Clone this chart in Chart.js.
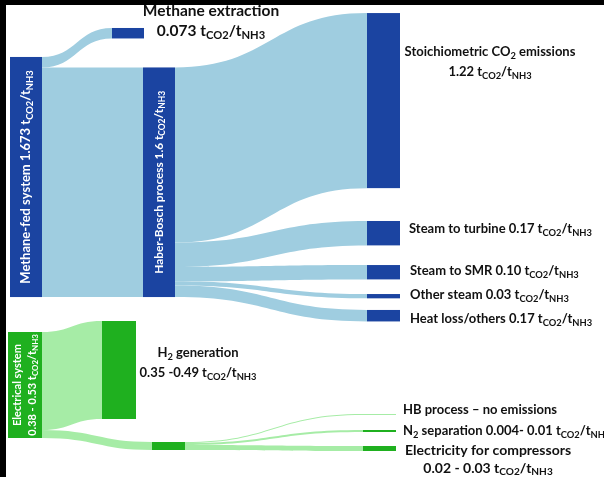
<!DOCTYPE html>
<html>
<head>
<meta charset="utf-8">
<script src="https://cdn.jsdelivr.net/npm/chart.js"></script>
<style>
  html, body { margin: 0; padding: 0; background: #fff; }
  canvas { display: block; }
</style>
</head>
<body>
<canvas id="myChart" width="604" height="477"></canvas>
<script>
// --- data (values in tCO2/tNH3) ---
var nodeNames = ['Methane-fed system', 'Methane extraction', 'Haber-Bosch process',
  'Stoichiometric CO2 emissions', 'Steam to turbine', 'Steam to SMR', 'Other steam', 'Heat loss/others',
  'Electrical system', 'H2 generation', 'Electricity split', 'HB process - no emissions',
  'N2 separation', 'Electricity for compressors'];
var nodeValues = [1.673, 0.073, 1.6, 1.22, 0.17, 0.10, 0.03, 0.08, 0.53, 0.49, 0.04, 0.005, 0.01, 0.025];
var flowFrom = [0, 0, 2, 2, 2, 2, 2, 8, 8, 10, 10, 10];
var flowTo = [1, 2, 3, 4, 5, 6, 7, 9, 10, 11, 12, 13];
var flowValues = [0.073, 1.6, 1.22, 0.17, 0.10, 0.03, 0.08, 0.49, 0.04, 0.005, 0.01, 0.025];

// label texts (_{..} = subscript)
var labelTexts = [
  ['Methane extraction', '0.073 t_{CO2}/t_{NH3}'],
  ['Stoichiometric CO_{2} emissions', '1.22 t_{CO2}/t_{NH3}'],
  ['Steam to turbine 0.17 t_{CO2}/t_{NH3}'],
  ['Steam to SMR 0.10 t_{CO2}/t_{NH3}'],
  ['Other steam 0.03 t_{CO2}/t_{NH3}'],
  ['Heat loss/others 0.17 t_{CO2}/t_{NH3}'],
  ['H_{2} generation', '0.35 -0.49 t_{CO2}/t_{NH3}'],
  ['HB process \u2013 no emissions'],
  ['N_{2} separation 0.004- 0.01 t_{CO2}/t_{NH3}'],
  ['Electricity for compressors', '0.02 - 0.03 t_{CO2}/t_{NH3}']
];
var nodeTexts = [
  ['Methane-fed system 1.673 t_{CO2}/t_{NH3}'],
  ['Haber-Bosch process 1.6 t_{CO2}/t_{NH3}'],
  ['Electrical system', '0.38 - 0.53 t_{CO2}/t_{NH3}']
];

// --- layout ---
var nodeLeft = [10, 112, 143, 367, 367, 367, 367, 367, 8, 102, 152, 363, 363, 363];
var nodeRight = [42, 144, 175, 400, 400, 400, 400, 400, 42, 136, 185, 396, 396, 396];
var nodeTop = [0.397, 0.195, 0.470, 0.091, 1.540, 1.847, 2.049, 2.160, 1.66, 1.605, 2.21, 2.07, 2.15, 2.23];
var nodeAxis = ['y', 'y', 'y', 'y', 'y', 'y', 'y', 'y', 'yg', 'yg', 'yg', 'yg', 'yg', 'yg'];
var nodeColor = ['#1b44a1', '#1b44a1', '#1b44a1', '#1b44a1', '#1b44a1', '#1b44a1', '#1b44a1', '#1b44a1',
  '#1fb01f', '#1fb01f', '#1fb01f', '#a6eca6', '#1fb01f', '#1fb01f'];
var flowColor = { y: '#9fcde0', yg: '#a6eca6' };
// label anchors: x, first-line y, align, line gap, font size
var labelPos = [
  [211, 11, 'center', 20, 15.5], [490, 52, 'center', 20, 13], [409, 229, 'left', 0, 13], [410, 271, 'left', 0, 13],
  [410, 295, 'left', 0, 13], [410, 319, 'left', 0, 13], [198, 353, 'center', 20, 13], [403, 410, 'left', 0, 13],
  [403, 431, 'left', 0, 13], [405, 450, 'left', 18, 14]
];
var nodeTextNode = [0, 2, 8];
var nodeTextSize = [13, 11.8, 11];
var FONT = 'Lato, "Open Sans", sans-serif';

function splitSub(str) {
  var out = [], re = /_\{([^}]*)\}/g, last = 0, m;
  while ((m = re.exec(str))) {
    if (m.index > last) out.push({ t: str.slice(last, m.index), sub: false });
    out.push({ t: m[1], sub: true });
    last = re.lastIndex;
  }
  if (last < str.length) out.push({ t: str.slice(last), sub: false });
  return out;
}

function richWidth(ctx, str, size) {
  var w = 0;
  splitSub(str).forEach(function(p) {
    ctx.font = 'bold ' + (p.sub ? size * 0.72 : size) + 'px ' + FONT;
    w += ctx.measureText(p.t).width;
  });
  return w;
}

function drawRich(ctx, str, x, y, size, align, color) {
  var parts = splitSub(str);
  var w = richWidth(ctx, str, size);
  var cx = align === 'center' ? x - w / 2 : x;
  ctx.fillStyle = color;
  ctx.textBaseline = 'middle';
  ctx.textAlign = 'left';
  parts.forEach(function(p) {
    ctx.font = 'bold ' + (p.sub ? size * 0.72 : size) + 'px ' + FONT;
    ctx.fillText(p.t, cx, p.sub ? y + size * 0.3 : y);
    cx += ctx.measureText(p.t).width;
  });
}

var sankeyPlugin = {
  id: 'sankey',
  beforeDraw: function(chart) {
    var ctx = chart.ctx;
    ctx.save();
    ctx.fillStyle = '#fff';
    ctx.fillRect(0, 0, chart.width, chart.height);
    ctx.fillStyle = '#000';
    ctx.fillRect(0, 0, chart.width, 5);
    ctx.fillRect(0, 0, 6, chart.height);
    ctx.restore();
  },
  afterDraw: function(chart) {
    var ctx = chart.ctx, xs = chart.scales.x;
    var outOff = nodeNames.map(function() { return 0; });
    var inOff = nodeNames.map(function() { return 0; });
    ctx.save();
    // flows
    for (var i = 0; i < flowValues.length; i++) {
      var s = flowFrom[i], t = flowTo[i], ys = chart.scales[nodeAxis[s]];
      var v = flowValues[i];
      var x0 = xs.getPixelForValue(nodeRight[s]), x1 = xs.getPixelForValue(nodeLeft[t]);
      var a0 = ys.getPixelForValue(nodeTop[s] + outOff[s]);
      var b0 = ys.getPixelForValue(nodeTop[s] + outOff[s] + v);
      var a1 = ys.getPixelForValue(nodeTop[t] + inOff[t]);
      var b1 = ys.getPixelForValue(nodeTop[t] + inOff[t] + v);
      outOff[s] += v; inOff[t] += v;
      var xm = (x0 + x1) / 2;
      ctx.beginPath();
      ctx.moveTo(x0, a0);
      ctx.bezierCurveTo(xm, a0, xm, a1, x1, a1);
      ctx.lineTo(x1, b1);
      ctx.bezierCurveTo(xm, b1, xm, b0, x0, b0);
      ctx.closePath();
      ctx.fillStyle = flowColor[nodeAxis[s]];
      ctx.fill();
    }
    // nodes
    for (var n = 0; n < nodeValues.length; n++) {
      var sc = chart.scales[nodeAxis[n]];
      var l = xs.getPixelForValue(nodeLeft[n]), r = xs.getPixelForValue(nodeRight[n]);
      var top = sc.getPixelForValue(nodeTop[n]), bot = sc.getPixelForValue(nodeTop[n] + nodeValues[n]);
      ctx.fillStyle = nodeColor[n];
      ctx.fillRect(l, top, r - l, Math.max(1, bot - top));
    }
    // vertical labels inside nodes
    nodeTexts.forEach(function(lines, k) {
      var n = nodeTextNode[k], sc = chart.scales[nodeAxis[n]];
      var cx = (xs.getPixelForValue(nodeLeft[n]) + xs.getPixelForValue(nodeRight[n])) / 2;
      var cy = (sc.getPixelForValue(nodeTop[n]) + sc.getPixelForValue(nodeTop[n] + nodeValues[n])) / 2;
      ctx.save();
      ctx.translate(cx, cy);
      ctx.rotate(-Math.PI / 2);
      lines.forEach(function(line, j) {
        drawRich(ctx, line, 0, (j - (lines.length - 1) / 2) * 15, nodeTextSize[k], 'center', '#fff');
      });
      ctx.restore();
    });
    // side labels
    labelTexts.forEach(function(lines, k) {
      var p = labelPos[k], size = p[4];
      var centre = p[2] === 'center' ? p[0] : p[0] + richWidth(ctx, lines[0], size) / 2;
      lines.forEach(function(line, j) {
        if (j === 0) drawRich(ctx, line, p[0], p[1], size, p[2], '#111');
        else drawRich(ctx, line, centre, p[1] + j * p[3], size, 'center', '#111');
      });
    });
    ctx.restore();
  }
};

var ctx = document.getElementById('myChart').getContext('2d');
var myChart = new Chart(ctx, {
  type: 'scatter',
  data: { datasets: [] },
  options: {
    responsive: false,
    animation: false,
    layout: { padding: 0 },
    plugins: { legend: { display: false }, tooltip: { enabled: false } },
    scales: {
      x: { type: 'linear', min: 0, max: 604, display: false },
      y: { type: 'linear', reverse: true, min: 0, max: 477 / 143.5, display: false },
      yg: { type: 'linear', position: 'left', reverse: true, min: 0, max: 477 / 200, display: false }
    }
  },
  plugins: [sankeyPlugin]
});
</script>
</body>
</html>
